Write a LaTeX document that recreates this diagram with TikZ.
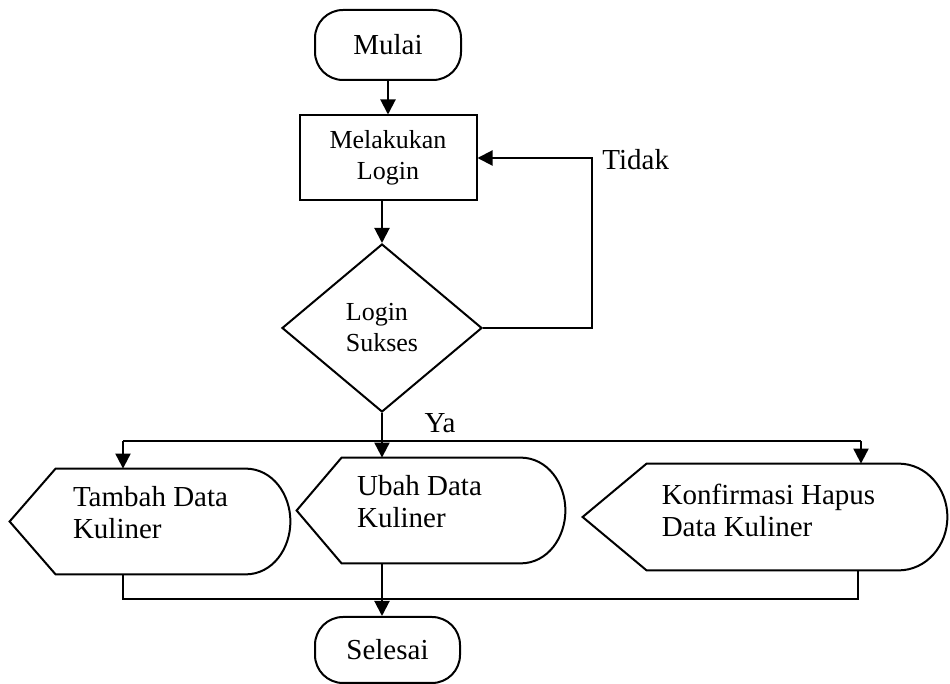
\documentclass[tikz,border=0pt]{standalone}
\usepackage{fontspec}
\setmainfont{Liberation Serif}
\usetikzlibrary{shapes.geometric,arrows.meta}

% display symbol: pointed left side, rounded right side
\newcommand{\displayoutline}[3]{%
    \draw[garis] (#1.west) -- ([xshift=#2]#1.north west) -- ([xshift=-#3]#1.north east)
        to[out=0,in=90] (#1.east) to[out=-90,in=0] ([xshift=-#3]#1.south east)
        -- ([xshift=#2]#1.south west) -- cycle;}

\begin{document}
\begin{tikzpicture}[x=0.5pt,y=0.5pt,
    every node/.style={font=\fontsize{14.5}{16}\selectfont,inner sep=0pt},
    garis/.style={line width=1pt},
    panah/.style={garis,-{Triangle[width=7.5pt,length=7.5pt]}},
    terminal/.style={draw,garis,rounded corners=14pt,minimum width=73pt,minimum height=35pt},
    proses/.style={draw,garis,minimum width=88.5pt,minimum height=42.5pt,align=center,
        font=\fontsize{13}{15.5}\selectfont},
    keputusan/.style={draw,garis,diamond,minimum width=100pt,minimum height=84pt,align=left,
        font=\fontsize{13}{15.5}\selectfont},
    tampil/.style={minimum height=52.5pt},
    teks/.style={align=left}]
    \useasboundingbox (0,0) rectangle (950,-684);

    \node[terminal] (mulai) at (388,-45) {Mulai};
    \node[proses] (login) at (388,-158) {Melakukan\\Login};
    \node[keputusan] (cek) at (382,-328) {Login\\Sukses};

    \node[tampil,minimum width=140pt] (tambah) at (150,-521.5) {};
    \node[tampil,minimum width=134pt] (ubah) at (431,-510.5) {};
    \node[tampil,minimum width=182pt,minimum height=53pt] (konfirm) at (765,-517) {};
    \displayoutline{tambah}{23pt}{22.5pt}
    \displayoutline{ubah}{22.5pt}{22.5pt}
    \displayoutline{konfirm}{32pt}{24.5pt}
    \node[teks] (tambahtxt) at (150.5,-513) {Tambah Data\\Kuliner};
    \node[teks] (ubahtxt) at (419.5,-502) {Ubah Data\\Kuliner};
    \node[teks] (konfirmtxt) at (768.5,-510) {Konfirmasi Hapus\\Data Kuliner};

    \node[terminal,minimum width=72.5pt,minimum height=33pt] (selesai) at (387.5,-650) {Selesai};

    \coordinate (tdk) at (592,-158);
    \coordinate (kiri) at (123,-441);
    \coordinate (kanan) at (861,-441);
    \coordinate (bawahkiri) at (123,-599);
    \coordinate (bawahkanan) at (858,-599);

    \draw[panah] (mulai) -- (login);
    \draw[panah] (login.south -| cek.north) -- (cek.north);
    \draw[panah] (cek.east) -| (tdk) -- (login.east);
    \node[anchor=west] (tidak) at (602,-160) {Tidak};

    \draw[panah] (cek.south) -- (cek.south |- ubah.north);
    \draw[garis] (kiri) -- (kanan);
    \draw[panah] (kiri) -- (kiri |- tambah.north);
    \draw[panah] (kanan) -- (kanan |- konfirm.north);
    \node (ya) at (440,-423) {Ya};

    \draw[garis] (tambah.south -| bawahkiri) -- (bawahkiri) -- (bawahkanan)
        -- (konfirm.south -| bawahkanan);
    \draw[panah] (cek.south |- ubah.south) -- (cek.south |- selesai.north);
\end{tikzpicture}
\end{document}
